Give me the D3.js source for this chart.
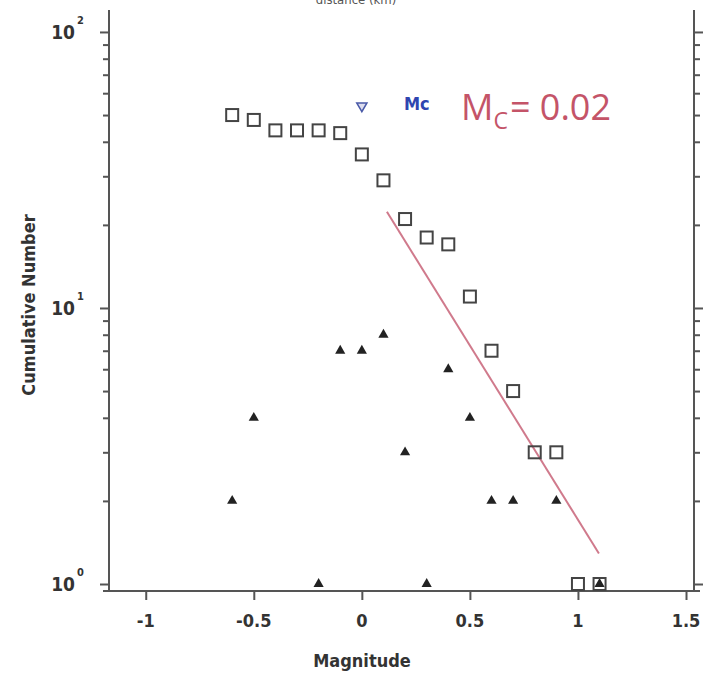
<!DOCTYPE html>
<html>
<head>
<meta charset="utf-8">
<script src="https://cdn.jsdelivr.net/npm/d3@7"></script>
<style>
  body { margin: 0; background: #fff; }
  svg text { font-family: "DejaVu Sans Condensed", "Liberation Sans Narrow", "Liberation Sans", Arial, sans-serif; font-stretch: condensed; }
</style>
</head>
<body>
<svg width="706" height="674"></svg>
<script>
// magnitude bins
const magnitudes = [-0.6, -0.5, -0.4, -0.3, -0.2, -0.1, 0, 0.1, 0.2, 0.3, 0.4, 0.5, 0.6, 0.7, 0.8, 0.9, 1.0, 1.1];
// cumulative number (squares)
const cumulative = [50, 48, 44, 44, 44, 43, 36, 29, 21, 18, 17, 11, 7, 5, 3, 3, 1, 1];
// non-cumulative number per bin (triangles), bins with zero left out
const binMags = [-0.6, -0.5, -0.2, -0.1, 0, 0.1, 0.2, 0.3, 0.4, 0.5, 0.6, 0.7, 0.9, 1.1];
const binCounts = [2, 4, 1, 7, 7, 8, 3, 1, 6, 4, 2, 2, 2, 1];
// Mc marker
const mcMag = 0;
const mcN = 54;
// fitted line end points
const fitMags = [0.116, 1.097];
const fitN = [22.3, 1.29];
const xTicks = [-1, -0.5, 0, 0.5, 1, 1.5];
const xTickLabels = ['-1', '-0.5', '0', '0.5', '1', '1.5'];
const yMajor = [1, 10, 100];
const yMajorExp = ['0', '1', '2'];

const svg = d3.select('svg');
const pLeft = 109, pRight = 694, pTop = 10, pBottom = 591;

const x = d3.scaleLinear().domain([-1.17, 1.537]).range([pLeft, pRight]);
const y = d3.scaleLog().domain([0.9433, 120.1]).range([pBottom, pTop]);

const minor = [];
[1, 10].forEach((d) => {
    for (let k = 2; k <= 9; k++) minor.push(d * k);
});

const axisColor = '#555';

// left axis
const gL = svg.append('g').attr('transform', `translate(${pLeft},0)`);
gL.call(d3.axisLeft(y).tickValues(yMajor).tickSize(9).tickFormat(''));
gL.append('g').call(d3.axisLeft(y).tickValues(minor).tickSize(6).tickFormat(''));
gL.selectAll('.domain').remove();
gL.append('line').attr('y1', pTop).attr('y2', pBottom);

// right axis
const gR = svg.append('g').attr('transform', `translate(${pRight},0)`);
gR.call(d3.axisRight(y).tickValues(yMajor).tickSize(9).tickFormat(''));
gR.append('g').call(d3.axisRight(y).tickValues(minor).tickSize(6).tickFormat(''));
gR.selectAll('.domain').remove();
gR.append('line').attr('y1', pTop).attr('y2', pBottom);

// bottom axis
const gB = svg.append('g').attr('transform', `translate(0,${pBottom})`);
gB.call(d3.axisBottom(x).tickValues(xTicks).tickSize(9).tickFormat(''));
gB.selectAll('.domain').remove();
gB.append('line').attr('x1', pLeft - 6).attr('x2', pRight + 6);

svg.selectAll('g line')
    .attr('stroke', axisColor)
    .attr('stroke-width', 2);

// x tick labels
svg.append('g').selectAll('text').data(xTicks).join('text')
    .attr('x', (d) => x(d))
    .attr('y', 627)
    .attr('text-anchor', 'middle')
    .attr('font-size', 18)
    .attr('font-weight', 'bold')
    .attr('fill', '#333')
    .text((d, i) => xTickLabels[i]);

// y tick labels 10^n
svg.append('g').selectAll('text').data(yMajor).join('text')
    .attr('x', 75)
    .attr('y', (d) => y(d) + 7)
    .attr('text-anchor', 'end')
    .attr('font-size', 19)
    .attr('font-weight', 'bold')
    .attr('fill', '#333')
    .text('10');
svg.append('g').selectAll('text').data(yMajor).join('text')
    .attr('x', 77)
    .attr('y', (d) => y(d) - 8)
    .attr('font-size', 11)
    .attr('font-weight', 'bold')
    .attr('fill', '#333')
    .text((d, i) => yMajorExp[i]);

// axis titles
svg.append('text')
    .attr('x', 362).attr('y', 667)
    .attr('text-anchor', 'middle')
    .attr('font-size', 18)
    .attr('font-weight', 'bold')
    .attr('fill', '#333')
    .text('Magnitude');
svg.append('text')
    .attr('transform', 'translate(35,305) rotate(-90)')
    .attr('text-anchor', 'middle')
    .attr('font-size', 18)
    .attr('font-weight', 'bold')
    .attr('fill', '#333')
    .text('Cumulative Number');

// cut off title at the very top
svg.append('text')
    .attr('x', 356).attr('y', 4)
    .attr('text-anchor', 'middle')
    .attr('font-size', 13)
    .attr('fill', '#555')
    .text('distance (km)');

// fitted line
svg.append('line')
    .attr('x1', x(fitMags[0])).attr('y1', y(fitN[0]))
    .attr('x2', x(fitMags[1])).attr('y2', y(fitN[1]))
    .attr('stroke', '#d07a8c')
    .attr('stroke-width', 2);

// triangles (non-cumulative)
const tri = d3.symbol().type(d3.symbolTriangle).size(45);
svg.append('g').selectAll('path').data(binMags).join('path')
    .attr('d', tri)
    .attr('transform', (d, i) => `translate(${x(d)},${y(binCounts[i])})`)
    .attr('fill', '#222');

// squares (cumulative)
svg.append('g').selectAll('rect').data(magnitudes).join('rect')
    .attr('x', (d) => x(d) - 6)
    .attr('y', (d, i) => y(cumulative[i]) - 6)
    .attr('width', 12)
    .attr('height', 12)
    .attr('fill', 'none')
    .attr('stroke', '#444')
    .attr('stroke-width', 2);

// Mc marker (inverted triangle)
svg.append('path')
    .attr('d', d3.symbol().type(d3.symbolTriangle).size(45))
    .attr('transform', `translate(${x(mcMag)},${y(mcN)}) rotate(180)`)
    .attr('fill', '#dde')
    .attr('stroke', '#4a5aa8')
    .attr('stroke-width', 1.5);

svg.append('text')
    .attr('x', 404).attr('y', 110)
    .attr('font-size', 18)
    .attr('font-weight', 'bold')
    .attr('fill', '#2f45b0')
    .text('Mc');

const mcText = svg.append('text')
    .attr('x', 461).attr('y', 120)
    .attr('fill', '#c45468')
    .style('font-family', '"Open Sans", "Noto Sans", sans-serif')
    .style('font-stretch', 'normal')
    .attr('font-size', 36);
mcText.append('tspan').text('M');
mcText.append('tspan').attr('font-size', 23).attr('dy', 9).text('C');
mcText.append('tspan').attr('dy', -9).attr('dx', 2).text('= 0.02');
</script>
</body>
</html>
